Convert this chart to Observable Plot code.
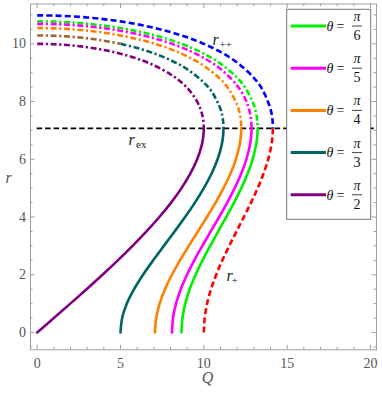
<!DOCTYPE html>
<html><head><meta charset="utf-8">
<script src="https://cdn.jsdelivr.net/npm/d3@7"></script>
<script src="https://cdn.jsdelivr.net/npm/@observablehq/plot@0.6"></script>
<style>body{margin:0;background:#fff} svg text{font-family:'Liberation Serif','Times New Roman',serif}</style>
</head><body><div id="chart"></div>
<script>
// ---- data ----
const thetaDenoms = ["6", "5", "4", "3", "2"];             // legend: θ = π/n
const thetaColors = ["#00f000", "#ff00ff", "#ff8000", "#006464", "#800080"];
const rPlusColor = "#ff0000", rPlusPlusColor = "#0000ff", brownColor = "#996633";
const rEx = 7.071;

// lower branches (solid / r+ dashed): r samples and Q values
const rLow = [0, 0.5, 1, 1.5, 2, 2.5, 3, 3.5, 4, 4.5, 5, 5.5, 6, 6.5, 6.8, 7.071];
const qLowPlus = [10, 10.050, 10.196, 10.431, 10.741, 11.110, 11.522, 11.958, 12.400, 12.830, 13.229, 13.579, 13.862, 14.057, 14.122, 14.142];
const qLow6 = [8.660, 8.718, 8.886, 9.154, 9.506, 9.922, 10.381, 10.863, 11.347, 11.815, 12.247, 12.625, 12.929, 13.138, 13.207, 13.229];
const qLow5 = [8.090, 8.152, 8.331, 8.617, 8.989, 9.428, 9.910, 10.414, 10.918, 11.404, 11.851, 12.241, 12.554, 12.769, 12.841, 12.863];
const qLow4 = [7.071, 7.141, 7.346, 7.668, 8.085, 8.570, 9.097, 9.644, 10.186, 10.705, 11.180, 11.593, 11.923, 12.149, 12.223, 12.247];
const qLow3 = [5, 5.099, 5.381, 5.814, 6.353, 6.960, 7.600, 8.246, 8.875, 9.466, 10, 10.459, 10.824, 11.072, 11.154, 11.180];
const qLow2 = [0, 0.999, 1.990, 2.966, 3.919, 4.841, 5.724, 6.557, 7.332, 8.037, 8.660, 9.187, 9.600, 9.879, 9.971, 10];

// upper branches (dash-dot / r++ dashed)
const upQPlus = [0, 1, 2, 3, 4, 5, 6, 7, 8, 9, 10, 11, 12, 13, 13.5, 14, 14.1, 14.127, 14.142];
const upRPlus = [10.987, 10.979, 10.954, 10.913, 10.855, 10.777, 10.679, 10.557, 10.407, 10.225, 10, 9.718, 9.350, 8.823, 8.430, 7.746, 7.447, 7.3, 7.071];
const upQ6 = [0, 1, 2, 3, 4, 5, 6, 7, 8, 9, 10, 11, 12, 12.5, 13, 13.075, 13.170, 13.212, 13.229];
const upR6 = [10.777, 10.768, 10.742, 10.697, 10.632, 10.547, 10.438, 10.302, 10.133, 9.924, 9.659, 9.314, 8.823, 8.465, 7.890, 7.75, 7.5, 7.3, 7.071];
const upQ5 = [0, 1, 2, 3, 4, 5, 6, 7, 8, 9, 10, 11, 12, 12.5, 12.704, 12.802, 12.845, 12.863];
const upR5 = [10.692, 10.683, 10.655, 10.608, 10.542, 10.453, 10.339, 10.196, 10.018, 9.795, 9.511, 9.129, 8.553, 8.073, 7.75, 7.5, 7.3, 7.071];
const upQ4 = [0, 1, 2, 3, 4, 5, 6, 7, 8, 9, 10, 11, 11.5, 12, 12.081, 12.184, 12.230, 12.247];
const upR4 = [10.547, 10.537, 10.508, 10.458, 10.387, 10.291, 10.168, 10.012, 9.817, 9.567, 9.239, 8.771, 8.430, 7.890, 7.75, 7.5, 7.3, 7.071];
const upQ3brown = [0, 1, 2, 3, 4, 5];
const upR3brown = [10.291, 10.280, 10.247, 10.191, 10.110, 10];
const upQ3 = [5, 6, 7, 8, 9, 10, 10.5, 11, 11.110, 11.161, 11.180];
const upR3 = [10, 9.857, 9.674, 9.437, 9.120, 8.660, 8.319, 7.746, 7.5, 7.3, 7.071];
const upQ2 = [0, 1, 2, 3, 4, 5, 6, 7, 8, 8.5, 9, 9.5, 9.795, 9.922, 9.978, 10];
const upR2 = [10, 9.987, 9.949, 9.884, 9.789, 9.659, 9.487, 9.258, 8.944, 8.737, 8.473, 8.100, 7.75, 7.5, 7.3, 7.071];

// ticks
const xMajor = [0, 5, 10, 15, 20];
const xMinor = [1, 2, 3, 4, 6, 7, 8, 9, 11, 12, 13, 14, 16, 17, 18, 19];
const yMajor = [0, 2, 4, 6, 8, 10];
const yMinor = [-0.5, 0.5, 1, 1.5, 2.5, 3, 3.5, 4.5, 5, 5.5, 6.5, 7, 7.5, 8.5, 9, 9.5, 10.5, 11];

// ---- layout ----
const W = 382, H = 394;
const mL = 30, mR = 6, mT = 3.5, mB = 44.7;
const xDom = [-0.40, 20.36], yDom = [-0.60, 11.38];
const kx = (W - mL - mR) / (xDom[1] - xDom[0]);
const ky = (H - mT - mB) / (yDom[1] - yDom[0]);
const serif = "'Liberation Serif', 'Times New Roman', serif";
const frameColor = "#a0a0a0", labelColor = "#555";
const majLen = 4.5, minLen = 2.5;
const solidW = 2.6;
const dashed = "6,3.2", dashDot = "6,2.6,2.2,2.6";

const fromR = (rs, qs) => rs.map((r, i) => ({Q: qs[i], r}));
const fromQ = (qs, rs) => qs.map((q, i) => ({Q: q, r: rs[i]}));
const line = (data, stroke, dash) => Plot.line(data, {
  x: "Q", y: "r", stroke, strokeWidth: solidW, strokeDasharray: dash,
  strokeLinecap: dash ? "butt" : "round", curve: "catmull-rom"
});

const lowers = [qLow6, qLow5, qLow4, qLow3, qLow2];
const uppers = [[upQ6, upR6], [upQ5, upR5], [upQ4, upR4], [upQ3, upR3], [upQ2, upR2]];

const tickRulesX = (vals, len) => [
  Plot.ruleX(vals, {x: d => d, y1: yDom[0], y2: yDom[0] + len / ky, stroke: frameColor}),
  Plot.ruleX(vals, {x: d => d, y1: yDom[1], y2: yDom[1] - len / ky, stroke: frameColor})
];
const tickRulesY = (vals, len) => [
  Plot.ruleY(vals, {y: d => d, x1: xDom[0], x2: xDom[0] + len / kx, stroke: frameColor}),
  Plot.ruleY(vals, {y: d => d, x1: xDom[1], x2: xDom[1] - len / kx, stroke: frameColor})
];
const txt = (s, x, y, o) => Plot.text([s], {x, y, fontFamily: serif, textAnchor: "start", lineAnchor: "bottom", fill: "#222", ...o});

const plot = Plot.plot({
  width: W, height: H,
  marginLeft: mL, marginRight: mR, marginTop: mT, marginBottom: mB,
  style: {fontFamily: serif, background: "#fff"},
  x: {domain: xDom},
  y: {domain: yDom},
  marks: [
    Plot.axisX(xMajor, {tickSize: 0, tickPadding: 8, fontSize: 14, fill: labelColor, fontFamily: serif, label: null}),
    Plot.axisY(yMajor, {tickSize: 0, tickPadding: 4.5, fontSize: 14, fill: labelColor, fontFamily: serif, label: null}),
    ...tickRulesX(xMajor, majLen), ...tickRulesX(xMinor, minLen),
    ...tickRulesY(yMajor, majLen), ...tickRulesY(yMinor, minLen),
    Plot.ruleY([rEx], {x1: 0, x2: 20.36, stroke: "#000", strokeWidth: 1.7, strokeDasharray: "5.5,3"}),
    // r+ and r++ (θ = 0)
    line(fromR(rLow, qLowPlus), rPlusColor, dashed),
    line(fromQ(upQPlus, upRPlus), rPlusPlusColor, dashed),
    // θ branches
    ...lowers.map((q, i) => line(fromR(rLow, q), thetaColors[i], null)),
    ...uppers.map(([q, r], i) => line(fromQ(q, r), thetaColors[i], dashDot)),
    line(fromQ(upQ3brown, upR3brown), brownColor, dashDot),
    Plot.frame({stroke: frameColor}),
    // curve labels
    txt("r", 10.52, 9.975, {fontSize: 16, fontStyle: "italic"}),
    txt("++", 10.52, 9.975, {dx: 7, dy: 3, fontSize: 11}),
    txt("r", 5.48, 6.48, {fontSize: 16, fontStyle: "italic"}),
    txt("ex", 5.48, 6.48, {dx: 7.5, dy: 3, fontSize: 11}),
    txt("r", 11.36, 1.77, {fontSize: 16, fontStyle: "italic"}),
    txt("+", 11.36, 1.77, {dx: 5, dy: 3, fontSize: 11}),
    // axis titles
    Plot.text(["Q"], {frameAnchor: "bottom", dx: 4, dy: 33, fontSize: 16, fontStyle: "italic", fill: labelColor, fontFamily: serif}),
    Plot.text(["r"], {frameAnchor: "left", dx: -25, dy: 1, fontSize: 16, fontStyle: "italic", fill: labelColor, fontFamily: serif})
  ]
});

// ---- legend inside the frame ----
const svg = d3.select(plot);
const lg = svg.append("g").attr("font-family", serif).attr("fill", "#111");
lg.append("rect").attr("x", 286.7).attr("y", 9.3).attr("width", 84).attr("height", 210)
  .attr("fill", "#fff").attr("stroke", "#777").attr("stroke-width", 1);
thetaDenoms.forEach((den, i) => {
  const y = 26 + 42.2 * i;
  lg.append("line").attr("x1", 290.7).attr("x2", 326).attr("y1", y).attr("y2", y)
    .attr("stroke", thetaColors[i]).attr("stroke-width", 3);
  lg.append("text").attr("x", 330).attr("y", y + 4.8).attr("font-size", 14).attr("font-style", "italic").text("θ");
  lg.append("text").attr("x", 340.5).attr("y", y + 4.8).attr("font-size", 14).text("=");
  lg.append("text").attr("x", 357).attr("y", y - 5).attr("font-size", 14).attr("font-style", "italic").attr("text-anchor", "middle").text("π");
  lg.append("line").attr("x1", 352).attr("x2", 362).attr("y1", y).attr("y2", y).attr("stroke", "#111").attr("stroke-width", 0.8);
  lg.append("text").attr("x", 357).attr("y", y + 14).attr("font-size", 14).attr("text-anchor", "middle").text(den);
});

document.getElementById("chart").appendChild(plot);
</script>
</body></html>
